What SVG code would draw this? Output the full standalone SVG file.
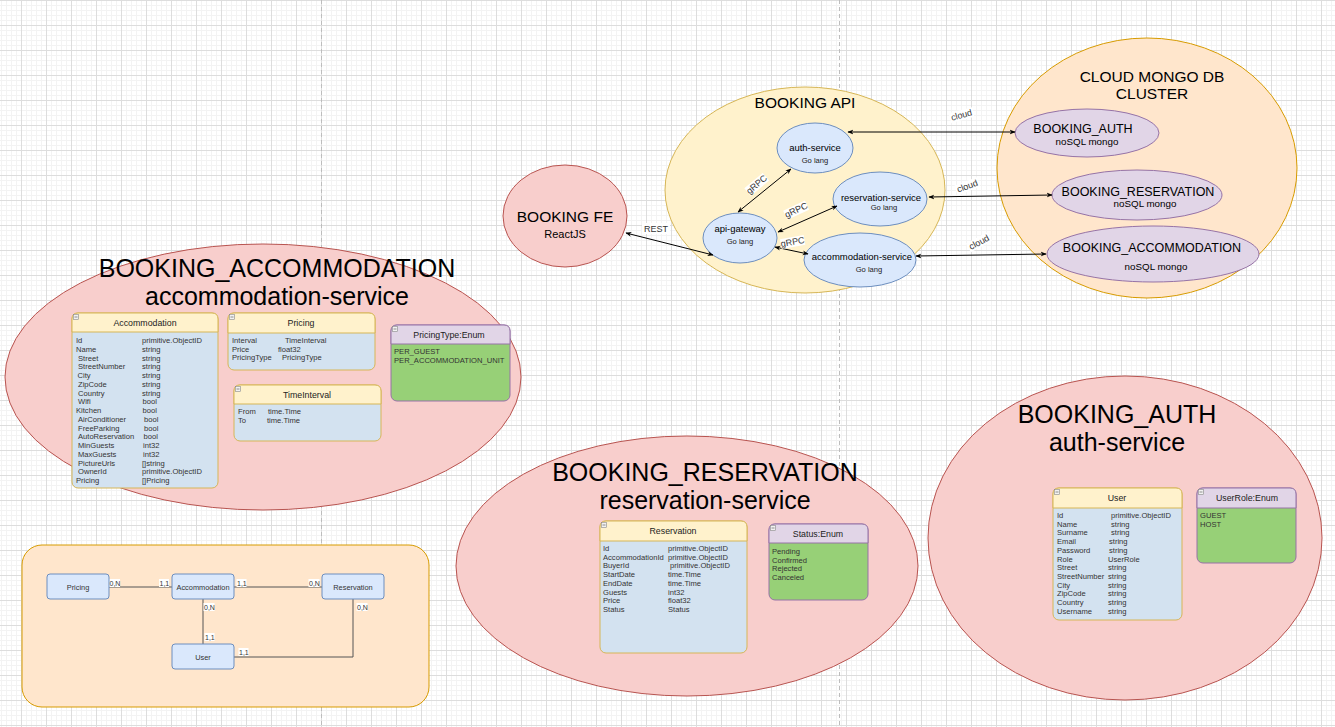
<svg xmlns="http://www.w3.org/2000/svg" width="1335" height="727" viewBox="0 0 1335 727">
<defs>
<pattern id="minor" width="5" height="5" patternUnits="userSpaceOnUse" x="1" y="0"><path d="M0.5 0V5M0 0.5H5" stroke="#f3f3f3" stroke-width="1" fill="none"/></pattern>
<pattern id="major" width="25" height="25" patternUnits="userSpaceOnUse" x="21" y="0"><path d="M0.5 0V25M0 0.5H25" stroke="#dddddd" stroke-width="1" fill="none"/></pattern>
<marker id="arr" viewBox="0 0 10 10" refX="9" refY="5" markerWidth="6" markerHeight="6" orient="auto-start-reverse"><path d="M0,1 L10,5 L0,9 L3,5 Z" fill="#000"/></marker>
</defs>
<style>
text{font-family:"Liberation Sans",Arial,sans-serif;fill:#000}
.big{font-size:25px;text-anchor:middle}
.t16{font-size:15.5px;text-anchor:middle}
.svc{fill:#dae8fc;stroke:#6c8ebf;stroke-width:1}
.svcT{font-size:9.5px;text-anchor:middle}
.go{font-size:7.6px;text-anchor:middle;fill:#222}
.db{fill:#e1d5e7;stroke:#9673a6;stroke-width:1}
.dbT{font-size:12.5px;text-anchor:middle}
.dbS{font-size:9.8px;text-anchor:middle}
.lbl{font-size:9px;text-anchor:middle;fill:#333}
.bg{fill:#fff}
.con{stroke:#000;stroke-width:1;fill:none}
.body{fill:#d3e2f0;stroke:#d6b656;stroke-width:1}
.head{fill:#fff2cc;stroke:#d6b656;stroke-width:1}
.ebody{fill:#97d077;stroke:#9673a6;stroke-width:1}
.ehead{fill:#e1d5e7;stroke:#9673a6;stroke-width:1}
.ht{font-size:8.8px;text-anchor:middle;fill:#222}
.r{font-size:7.6px;fill:#333}
.ico{fill:#f2f2f2;stroke:#888;stroke-width:0.6}
.er{fill:#dae8fc;stroke:#6c8ebf;stroke-width:1}
.erT{font-size:7.4px;text-anchor:middle;fill:#333}
.erL{stroke:#555;stroke-width:1;fill:none}
.erN{font-size:7px;fill:#333}
.page{stroke:#bdbdbd;stroke-width:1;stroke-dasharray:4 3}
</style>
<rect width="1335" height="727" fill="#fff"/>
<rect width="1335" height="727" fill="url(#minor)"/>
<rect width="1335" height="727" fill="url(#major)"/>
<line class="page" x1="321.5" y1="0" x2="321.5" y2="727"/>
<line class="page" x1="839.5" y1="0" x2="839.5" y2="727"/>

<g id="booking-accommodation">
<ellipse cx="263" cy="377" rx="258" ry="133" fill="#f8cecc" stroke="#b85450"/>
<text class="big" x="277" y="277">BOOKING_ACCOMMODATION</text>
<text class="big" x="277" y="305">accommodation-service</text>
</g>
<g id="booking-reservation">
<ellipse cx="687" cy="566" rx="231" ry="130" fill="#f8cecc" stroke="#b85450"/>
<text class="big" x="705" y="481">BOOKING_RESERVATION</text>
<text class="big" x="705" y="509">reservation-service</text>
</g>
<g id="booking-auth">
<ellipse cx="1125" cy="538" rx="197" ry="162" fill="#f8cecc" stroke="#b85450"/>
<text class="big" x="1117" y="423">BOOKING_AUTH</text>
<text class="big" x="1117" y="451">auth-service</text>
</g>

<g id="booking-api">
<ellipse cx="805" cy="190" rx="140" ry="103" fill="#fff2cc" stroke="#d6b656"/>
<text class="t16" x="805" y="108">BOOKING API</text>
</g>
<g id="cloud-mongo">
<ellipse cx="1147" cy="168" rx="150" ry="130" fill="#ffe6cc" stroke="#d79b00"/>
<text class="t16" x="1152" y="82">CLOUD MONGO DB</text>
<text class="t16" x="1152" y="99">CLUSTER</text>
</g>
<g id="booking-fe">
<ellipse cx="565" cy="216" rx="62" ry="51" fill="#f8cecc" stroke="#b85450"/>
<text class="t16" x="565" y="222">BOOKING FE</text>
<text x="565" y="238" style="font-size:11px;text-anchor:middle">ReactJS</text>
</g>
<g id="auth-service">
<ellipse class="svc" cx="815" cy="148" rx="38" ry="25"/>
<text class="svcT" x="815" y="151">auth-service</text>
<text class="go" x="815" y="163">Go lang</text>
</g>
<g id="reservation-service">
<ellipse class="svc" cx="880" cy="199" rx="47" ry="27"/>
<text class="svcT" x="881" y="201">reservation-service</text>
<text class="go" x="884" y="210">Go lang</text>
</g>
<g id="api-gateway">
<ellipse class="svc" cx="740" cy="238" rx="37" ry="25"/>
<text class="svcT" x="740" y="232">api-gateway</text>
<text class="go" x="740" y="244">Go lang</text>
</g>
<g id="accommodation-service">
<ellipse class="svc" cx="860" cy="260" rx="56" ry="27"/>
<text class="svcT" x="862" y="260">accommodation-service</text>
<text class="go" x="869" y="272">Go lang</text>
</g>
<g id="db-auth">
<ellipse class="db" cx="1087" cy="133" rx="72" ry="24"/>
<text class="dbT" x="1083" y="133">BOOKING_AUTH</text>
<text class="dbS" x="1087" y="145">noSQL mongo</text>
</g>
<g id="db-reservation">
<ellipse class="db" cx="1137" cy="195" rx="85" ry="25"/>
<text class="dbT" x="1138" y="196">BOOKING_RESERVATION</text>
<text class="dbS" x="1145" y="207">noSQL mongo</text>
</g>
<g id="db-accommodation">
<ellipse class="db" cx="1153" cy="254" rx="106" ry="28"/>
<text class="dbT" x="1152" y="252">BOOKING_ACCOMMODATION</text>
<text class="dbS" x="1156" y="270">noSQL mongo</text>
</g>

<g id="connectors">
<line class="con" x1="626" y1="233" x2="713" y2="255" marker-start="url(#arr)" marker-end="url(#arr)"/>
<line class="con" x1="738" y1="212" x2="791" y2="169" marker-start="url(#arr)" marker-end="url(#arr)"/>
<line class="con" x1="778" y1="232" x2="837" y2="206" marker-start="url(#arr)" marker-end="url(#arr)"/>
<line class="con" x1="775" y1="247" x2="808" y2="254" marker-start="url(#arr)" marker-end="url(#arr)"/>
<line class="con" x1="848" y1="132" x2="1015" y2="132" marker-start="url(#arr)" marker-end="url(#arr)"/>
<line class="con" x1="929" y1="197" x2="1052" y2="195" marker-start="url(#arr)" marker-end="url(#arr)"/>
<line class="con" x1="916" y1="256" x2="1046" y2="254" marker-start="url(#arr)" marker-end="url(#arr)"/>
<rect class="bg" x="642" y="223" width="28" height="11"/>
<text class="lbl" x="656" y="232">REST</text>
<g transform="translate(758,186) rotate(-40)"><rect class="bg" x="-12" y="-7" width="24" height="10"/><text class="lbl" x="0" y="1">gRPC</text></g>
<g transform="translate(797,212) rotate(-25)"><rect class="bg" x="-12" y="-7" width="24" height="10"/><text class="lbl" x="0" y="1">gRPC</text></g>
<g transform="translate(793,244) rotate(-10)"><rect class="bg" x="-12" y="-7" width="24" height="10"/><text class="lbl" x="0" y="1">gRPC</text></g>
<g transform="translate(962,117) rotate(-15)"><rect class="bg" x="-12" y="-7" width="24" height="10"/><text class="lbl" x="0" y="1">cloud</text></g>
<g transform="translate(968,188) rotate(-20)"><rect class="bg" x="-12" y="-7" width="24" height="10"/><text class="lbl" x="0" y="1">cloud</text></g>
<g transform="translate(980,244) rotate(-28)"><rect class="bg" x="-12" y="-7" width="24" height="10"/><text class="lbl" x="0" y="1">cloud</text></g>
</g>

<g id="tbl-accommodation">
<rect class="body" x="72" y="313" width="146" height="175" rx="6"/>
<path class="head" d="M72,332 V319 Q72,313 78,313 H212 Q218,313 218,319 V332 Z"/>
<rect class="ico" x="73.5" y="314.5" width="5" height="5"/><line x1="74.5" y1="317" x2="77.5" y2="317" stroke="#666" stroke-width="0.7"/>
<text class="ht" x="145" y="326">Accommodation</text>
<text class="r" x="76" y="343">Id</text><text class="r" x="142" y="343">primitive.ObjectID</text>
<text class="r" x="76" y="351.75">Name</text><text class="r" x="142" y="351.75">string</text>
<text class="r" x="78" y="360.5">Street</text><text class="r" x="142" y="360.5">string</text>
<text class="r" x="78" y="369.25">StreetNumber</text><text class="r" x="142" y="369.25">string</text>
<text class="r" x="77.5" y="378">City</text><text class="r" x="142" y="378">string</text>
<text class="r" x="78" y="386.75">ZipCode</text><text class="r" x="142" y="386.75">string</text>
<text class="r" x="78" y="395.5">Country</text><text class="r" x="142" y="395.5">string</text>
<text class="r" x="78" y="404.25">Wifi</text><text class="r" x="142.5" y="404.25">bool</text>
<text class="r" x="76" y="413">Kitchen</text><text class="r" x="142.5" y="413">bool</text>
<text class="r" x="78" y="421.75">AirConditioner</text><text class="r" x="144" y="421.75">bool</text>
<text class="r" x="78" y="430.5">FreeParking</text><text class="r" x="144" y="430.5">bool</text>
<text class="r" x="78" y="439.25">AutoReservation</text><text class="r" x="143.5" y="439.25">bool</text>
<text class="r" x="78" y="448">MinGuests</text><text class="r" x="143" y="448">int32</text>
<text class="r" x="78" y="456.75">MaxGuests</text><text class="r" x="143" y="456.75">int32</text>
<text class="r" x="78" y="465.5">PictureUrls</text><text class="r" x="142" y="465.5">[]string</text>
<text class="r" x="78" y="474.25">OwnerId</text><text class="r" x="142" y="474.25">primitive.ObjectID</text>
<text class="r" x="76" y="483">Pricing</text><text class="r" x="142" y="483">[]Pricing</text>
</g>

<g id="tbl-pricing">
<rect class="body" x="228" y="313" width="147" height="57" rx="6"/>
<path class="head" d="M228,333 V319 Q228,313 234,313 H369 Q375,313 375,319 V333 Z"/>
<rect class="ico" x="229.5" y="314.5" width="5" height="5"/><line x1="230.5" y1="317" x2="233.5" y2="317" stroke="#666" stroke-width="0.7"/>
<text class="ht" x="301" y="326">Pricing</text>
<text class="r" x="232" y="343">Interval</text><text class="r" x="285" y="343">TimeInterval</text>
<text class="r" x="232" y="351.5">Price</text><text class="r" x="278" y="351.5">float32</text>
<text class="r" x="232" y="360">PricingType</text><text class="r" x="282" y="360">PricingType</text>
</g>

<g id="tbl-timeinterval">
<rect class="body" x="234" y="385" width="147" height="56" rx="6"/>
<path class="head" d="M234,404 V391 Q234,385 240,385 H375 Q381,385 381,391 V404 Z"/>
<rect class="ico" x="235.5" y="386.5" width="5" height="5"/><line x1="236.5" y1="389" x2="239.5" y2="389" stroke="#666" stroke-width="0.7"/>
<text class="ht" x="307" y="398">TimeInterval</text>
<text class="r" x="238" y="414">From</text><text class="r" x="268" y="414">time.Time</text>
<text class="r" x="238" y="423">To</text><text class="r" x="267" y="423">time.Time</text>
</g>

<g id="enum-pricingtype">
<rect class="ebody" x="391" y="325" width="119" height="76" rx="6"/>
<path class="ehead" d="M391,344 V331 Q391,325 397,325 H504 Q510,325 510,331 V344 Z"/>
<rect class="ico" x="392.5" y="326.5" width="5" height="5"/><line x1="393.5" y1="329" x2="396.5" y2="329" stroke="#666" stroke-width="0.7"/>
<text class="ht" x="449" y="338">PricingType:Enum</text>
<text class="r" x="394" y="354">PER_GUEST</text>
<text class="r" x="394" y="362.5">PER_ACCOMMODATION_UNIT</text>
</g>

<g id="tbl-reservation">
<rect class="body" x="600" y="521" width="147" height="132" rx="6"/>
<path class="head" d="M600,541 V527 Q600,521 606,521 H741 Q747,521 747,527 V541 Z"/>
<rect class="ico" x="601.5" y="522.5" width="5" height="5"/><line x1="602.5" y1="525" x2="605.5" y2="525" stroke="#666" stroke-width="0.7"/>
<text class="ht" x="673" y="534">Reservation</text>
<text class="r" x="603" y="551">Id</text><text class="r" x="668" y="551">primitive.ObjectID</text>
<text class="r" x="603" y="559.7">AccommodationId</text><text class="r" x="668" y="559.7">primitive.ObjectID</text>
<text class="r" x="603" y="568.4">BuyerId</text><text class="r" x="670" y="568.4">primitive.ObjectID</text>
<text class="r" x="603" y="577.1">StartDate</text><text class="r" x="668" y="577.1">time.Time</text>
<text class="r" x="603" y="585.8">EndDate</text><text class="r" x="668" y="585.8">time.Time</text>
<text class="r" x="603" y="594.5">Guests</text><text class="r" x="668" y="594.5">int32</text>
<text class="r" x="603" y="603.2">Price</text><text class="r" x="668" y="603.2">float32</text>
<text class="r" x="603" y="611.9">Status</text><text class="r" x="668" y="611.9">Status</text>
</g>

<g id="enum-status">
<rect class="ebody" x="769" y="524" width="99" height="76" rx="6"/>
<path class="ehead" d="M769,543 V530 Q769,524 775,524 H862 Q868,524 868,530 V543 Z"/>
<rect class="ico" x="770.5" y="525.5" width="5" height="5"/><line x1="771.5" y1="528" x2="774.5" y2="528" stroke="#666" stroke-width="0.7"/>
<text class="ht" x="818" y="537">Status:Enum</text>
<text class="r" x="772" y="554">Pending</text>
<text class="r" x="772" y="562.6">Confirmed</text>
<text class="r" x="772" y="571.2">Rejected</text>
<text class="r" x="772" y="579.8">Canceled</text>
</g>

<g id="tbl-user">
<rect class="body" x="1053" y="488" width="129" height="132" rx="6"/>
<path class="head" d="M1053,508 V494 Q1053,488 1059,488 H1176 Q1182,488 1182,494 V508 Z"/>
<rect class="ico" x="1054.5" y="489.5" width="5" height="5"/><line x1="1055.5" y1="492" x2="1058.5" y2="492" stroke="#666" stroke-width="0.7"/>
<text class="ht" x="1117" y="501">User</text>
<text class="r" x="1057" y="518">Id</text><text class="r" x="1111" y="518">primitive.ObjectID</text>
<text class="r" x="1057" y="526.7">Name</text><text class="r" x="1111" y="526.7">string</text>
<text class="r" x="1057" y="535.4">Surname</text><text class="r" x="1111" y="535.4">string</text>
<text class="r" x="1057" y="544.1">Email</text><text class="r" x="1109" y="544.1">string</text>
<text class="r" x="1057" y="552.8">Password</text><text class="r" x="1109" y="552.8">string</text>
<text class="r" x="1057" y="561.5">Role</text><text class="r" x="1108" y="561.5">UserRole</text>
<text class="r" x="1057" y="570.2">Street</text><text class="r" x="1108" y="570.2">string</text>
<text class="r" x="1057" y="578.9">StreetNumber</text><text class="r" x="1108" y="578.9">string</text>
<text class="r" x="1057" y="587.6">City</text><text class="r" x="1108" y="587.6">string</text>
<text class="r" x="1057" y="596.3">ZipCode</text><text class="r" x="1108" y="596.3">string</text>
<text class="r" x="1057" y="605">Country</text><text class="r" x="1108" y="605">string</text>
<text class="r" x="1057" y="613.7">Username</text><text class="r" x="1108" y="613.7">string</text>
</g>

<g id="enum-userrole">
<rect class="ebody" x="1197" y="488" width="99" height="75" rx="6"/>
<path class="ehead" d="M1197,508 V494 Q1197,488 1203,488 H1290 Q1296,488 1296,494 V508 Z"/>
<rect class="ico" x="1198.5" y="489.5" width="5" height="5"/><line x1="1199.5" y1="492" x2="1202.5" y2="492" stroke="#666" stroke-width="0.7"/>
<text class="ht" x="1247" y="501">UserRole:Enum</text>
<text class="r" x="1200" y="518">GUEST</text>
<text class="r" x="1200" y="526.5">HOST</text>
</g>

<g id="er-container">
<rect x="22" y="545" width="407" height="162" rx="20" fill="#ffe6cc" stroke="#d79b00"/>
</g>
<g id="er-connectors">
<line class="erL" x1="109" y1="587" x2="172" y2="587"/>
<line class="erL" x1="234" y1="587" x2="322" y2="587"/>
<line class="erL" x1="203" y1="599" x2="203" y2="644"/>
<polyline class="erL" points="234,657 353,657 353,599"/>
<rect class="bg" x="109" y="579" width="11" height="8"/><text class="erN" x="109.5" y="586">0,N</text>
<rect class="bg" x="159" y="579" width="10" height="8"/><text class="erN" x="159.5" y="586">1,1</text>
<rect class="bg" x="236.5" y="579" width="10" height="8"/><text class="erN" x="237" y="586">1,1</text>
<rect class="bg" x="308.5" y="579" width="11" height="8"/><text class="erN" x="309" y="586">0,N</text>
<rect class="bg" x="203.5" y="603" width="11" height="8"/><text class="erN" x="204" y="610">0,N</text>
<rect class="bg" x="204.5" y="633" width="10" height="8"/><text class="erN" x="205" y="640">1,1</text>
<rect class="bg" x="238.5" y="648" width="10" height="8"/><text class="erN" x="239" y="655">1,1</text>
<rect class="bg" x="356.5" y="603" width="11" height="8"/><text class="erN" x="357" y="610">0,N</text>
</g>
<g id="er-pricing"><rect class="er" x="47" y="574" width="62" height="25" rx="3"/><text class="erT" x="78" y="590">Pricing</text></g>
<g id="er-accommodation"><rect class="er" x="172" y="574" width="62" height="25" rx="3"/><text class="erT" x="203" y="590">Accommodation</text></g>
<g id="er-reservation"><rect class="er" x="322" y="574" width="62" height="25" rx="3"/><text class="erT" x="353" y="590">Reservation</text></g>
<g id="er-user"><rect class="er" x="172" y="644" width="62" height="25" rx="3"/><text class="erT" x="203" y="660">User</text></g>
</svg>
